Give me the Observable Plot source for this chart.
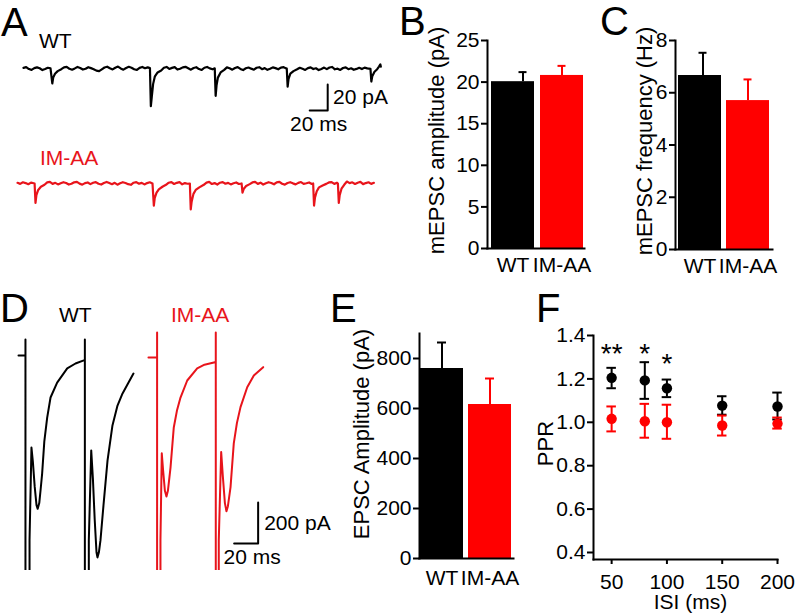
<!DOCTYPE html>
<html><head><meta charset="utf-8">
<script src="https://cdn.jsdelivr.net/npm/d3@7"></script>
<script src="https://cdn.jsdelivr.net/npm/@observablehq/plot@0.6"></script>
<style>
body{margin:0;background:#fff;}
#fig{position:relative;width:796px;height:614px;overflow:hidden;font-family:"Liberation Sans",Arial,sans-serif;color:#000;background:#fff;}
#fig svg{position:absolute;overflow:visible;}
.lbl{position:absolute;white-space:nowrap;line-height:1;font-size:21px;}
.let{position:absolute;white-space:nowrap;line-height:1;font-size:40px;}
</style></head><body><div id="fig"></div>
<script>
// ---------- data ----------
const groups = ["WT", "IM-AA"];
const mepscAmp = [20.05, 20.8];
const mepscAmpSem = [1.15, 1.15];
const mepscFreq = [6.66, 5.70];
const mepscFreqSem = [0.87, 0.81];
const epscAmp = [760, 616];
const epscAmpSem = [104, 104];

const isi = [50, 80, 100, 150, 200];
const isiTicks = [50, 100, 150, 200];
const pprWT = [1.205, 1.193, 1.157, 1.077, 1.073];
const pprWTlo = [1.157, 1.108, 1.116, 1.035, 1.013];
const pprWThi = [1.251, 1.277, 1.197, 1.120, 1.137];
const pprIM = [1.016, 1.005, 1.000, 0.985, 0.994];
const pprIMlo = [0.958, 0.929, 0.924, 0.939, 0.971];
const pprIMhi = [1.073, 1.085, 1.081, 1.031, 1.022];
const starIsi = [50, 80, 100];
const starY = [1.349, 1.349, 1.300];
const starText = ["**", "*", "*"];

const ampTicks = [0, 5, 10, 15, 20, 25];
const freqTicks = [0, 2, 4, 6, 8];
const epscTicks = [0, 200, 400, 600, 800];
const pprTicks = [0.4, 0.6, 0.8, 1.0, 1.2, 1.4];

// mEPSC traces: [time (ms), current (pA)]
const wtMini = [
[0,0.5],[3,1.1],[6,-0.4],[9,-1.0],[12,0.3],[15,0.9],[18,0.2],[21,-1.2],[24,-0.4],[27,0.6],[30,0.2],
[32,-11.5],[33,-7],[35,-4],[38,-2],[42,-0.5],
[45,0.9],[48,1.3],[51,-0.2],[54,-0.9],[57,0.1],[60,1.2],[63,0.4],[66,-0.8],[69,-0.2],[72,1.0],[75,0.3],[78,-0.5],[81,-1.6],[84,-2.0],[87,-0.6],[90,0.8],[93,1.4],[96,0.2],[99,-0.7],[102,0.6],[105,1.5],[108,0.1],[111,-0.9],[114,0.4],[117,1.3],[120,0.6],[123,-0.6],[126,-1.1],[129,0.5],[132,1.2],[135,0.2],[138,0.9],[140.5,0.3],
[141.5,-29],[142.5,-22],[144,-12],[146,-6],[149,-3],[153,-1.5],
[156,0.6],[159,1.2],[162,-0.3],[165,0.5],[168,1.1],[171,-0.8],[174,-0.2],[177,0.9],[180,1.3],[183,0.2],[186,-0.9],[189,0.4],[192,1.0],[195,-0.4],[198,-1.1],[201,0.6],[204,1.2],[207,0.1],[210,-0.6],[212.5,0.1],
[213.5,-21],[214.5,-13],[216,-7],[219,-3],[223,-1],
[226,0.9],[229,0.2],[232,-0.9],[235,0.4],[238,1.1],[241,-0.3],[244,-1.2],[247,0.2],[250,0.8],[253,-0.1],[256,-0.9],[259,0.6],[262,1.0],[265,-0.5],[268,0.3],[271,-1.0],[274,-0.2],[277,0.9],[280,0.3],[283,-0.6],[286,0.7],[289,1.1],[291,0.3],[292.5,0],
[293.5,-14],[294.5,-8],[296.5,-4],[300,-2],[304,-0.6],
[307,0.6],[310,-0.2],[313,-1.1],[316,0.3],[319,0.9],[322,-0.4],[325,0.2],[328,-1.2],[331,-0.3],[334,0.7],[337,-0.5],[340,0.8],[343,1.2],[346,-0.6],[349,-0.1],[352,-1.1],[355,0.4],[358,0.9],[361,-0.5],[364,0.2],[367,-1.0],[370,-0.3],[373,0.6],[376,-0.4],[379,0.7],[382,0.1],[385.5,-0.3],
[386.5,-10],[387.5,-6],[390,-2.5],[393,-0.5],[395,1.5],[396.5,3.2],[397,1.5]
];
const imMini = [
[0,0.5],[3,-0.3],[6,0.9],[9,0.3],[12,-0.6],[15,0.7],[18,0.2],[19,0],
[20,-15],[21,-9],[23,-5],[26,-2.5],[30,-1],
[33,0.8],[36,1.2],[39,-0.3],[42,0.5],[45,-0.7],[48,0.2],[51,1.0],[54,0.4],[57,-0.8],[60,-0.2],[63,0.9],[66,1.3],[69,-0.1],[72,-0.9],[75,0.3],[78,0.8],[81,-0.5],[84,0.6],[87,1.1],[90,-0.2],[93,-0.8],[96,0.4],[99,1.2],[102,0.3],[105,-0.6],[108,0.5],[111,-0.9],[114,0.2],[117,1.0],[120,0.4],[123,-0.5],[126,-1.0],[129,0.6],[132,1.1],[135,-0.2],[138,0.5],[141,-0.7],[144,0.3],[147,0.9],[150,0],
[151.5,-17],[152.5,-11],[154.5,-7],[157,-4.5],[161,-2.5],[165,-1],
[168,0.6],[171,1.1],[174,-0.4],[177,0.5],[180,1.0],[183,-0.6],[186,0.3],[189,-0.2],[191.5,0],
[192.5,-20],[193.5,-14],[195.5,-8],[198,-5],[202,-3],[207,-1],
[210,0.7],[213,1.2],[216,-0.4],[219,0.3],[222,-0.8],[225,0.6],[228,1.1],[231,-0.2],[234,0.5],[237,-0.7],[240,0.2],[243,0.8],[246,-0.4],[249,0],
[250,-7],[251.5,-4],[254,-2],[258,-0.5],
[261,0.8],[264,1.2],[267,-0.3],[270,0.6],[273,-0.8],[276,0.2],[279,1.0],[282,0.4],[285,-0.6],[288,0.9],[291,1.3],[294,-0.2],[297,-0.9],[300,0.4],[303,1.0],[306,0.1],[309,-0.7],[312,0.5],[315,1.1],[318,-0.3],[321,0.2],[324,0.8],[327,-0.4],[328.5,0],
[329.5,-17],[330.5,-11],[332.5,-6],[335,-3],[339,-1.5],[343,-0.3],
[346,0.8],[349,1.1],[352,-0.3],[355,0.6],[356,0],
[357,-15],[358,-9],[360,-4],[363,-1],[366,1.5],[369,0.3],
[372,0.9],[375,-0.4],[378,0.6],[381,1.2],[384,-0.5],[387,0.3],[390,0.9],[393,-0.3],[396,0.5]
];
// evoked EPSC traces (paired pulses, 50 ms): [time (ms), current (pA)]
const wtEpsc = [
[15,0],[20.8,0],[20.8,78],[20.8,-1300],[24.2,-1300],[24.2,-900],[25.8,-449],[27,-520],[28.5,-640],[30,-730],[31,-748],[32.3,-720],[33.5,-650],[34.7,-576],[36.5,-420],[38.9,-303],[41.7,-205],[47.2,-132],[55.6,-63],[62.5,-39],[69.4,-24],[70.3,-22],
[70.3,78],[70.3,-1300],[73.6,-1300],[73.6,-900],[75.6,-463],[77,-600],[78.5,-800],[80,-960],[80.8,-985],[82,-960],[83.3,-902],[85.8,-732],[89.2,-512],[93.3,-341],[97.5,-244],[101.7,-185],[106.7,-132],[110.8,-88]
];
const imEpsc = [
[123.3,-10],[130.5,-10],[130.5,112],[130.5,-1300],[133.3,-1300],[133.3,-900],[134.4,-477],[135.5,-560],[137,-660],[138.3,-688],[139.5,-660],[141.7,-546],[144.4,-351],[147,-270],[150,-205],[155.6,-122],[163.9,-63],[170,-45],[177.8,-34],[179.4,-32],
[179.4,112],[179.4,-1300],[181.9,-1300],[181.9,-900],[183.9,-471],[185.3,-590],[187,-720],[188.3,-760],[189.5,-735],[191.7,-642],[194.4,-429],[197,-330],[200,-252],[205.6,-155],[211.1,-98],[218.9,-57]
];

// ---------- helpers ----------
const FONT = '"Liberation Sans", Arial, sans-serif';
const barColors = ["#000000", "#ff0000"];
const traceRed = "#e8141b";
const fig = document.getElementById("fig");
const baseStyle = {fontFamily: FONT, fontSize: "21px", background: "transparent", overflow: "visible", color: "#000"};
function place(el, left, top) { el.style.left = left + "px"; el.style.top = top + "px"; fig.appendChild(el); }
function label(text, cls, left, top, color) {
  const d = document.createElement("div"); d.className = cls; d.textContent = text;
  d.style.left = left + "px"; d.style.top = top + "px"; if (color) d.style.color = color; fig.appendChild(d);
}

function barPanel(o) {
  const data = groups.map((g, i) => ({g, v: o.values[i], hi: o.values[i] + o.sems[i]}));
  const errMarks = groups.flatMap((g, i) => {
    const sub = data.filter(d => d.g === g);
    const dx = o.errDx ? o.errDx[i] : 0;
    return [
      Plot.ruleX(sub, {x: "g", y1: "v", y2: "hi", stroke: "g", strokeWidth: 2, dx}),
      Plot.tickY(sub, {x: "g", y: "hi", stroke: "g", strokeWidth: 2, insetLeft: o.cap, insetRight: o.cap, dx})
    ];
  });
  return Plot.plot({
    width: o.width, height: o.height,
    marginLeft: o.ml, marginRight: o.mr, marginTop: o.mt, marginBottom: o.mb,
    style: baseStyle,
    x: {domain: groups, range: o.xrange, paddingInner: o.pad, paddingOuter: 0, align: 0},
    y: {domain: o.ydomain},
    color: {domain: groups, range: barColors},
    marks: [
      ...errMarks,
      Plot.barY(data, {x: "g", y: "v", fill: "g"}),
      Plot.frame({anchor: "left", strokeWidth: 2}),
      Plot.frame({anchor: "bottom", strokeWidth: 2}),
      Plot.axisY({ticks: o.yticks, tickSize: 6, tickPadding: 2, strokeWidth: 2, label: null}),
      Plot.axisX({tickSize: 0, tickPadding: o.xpad, label: null}),
      Plot.text([o.ylabel], {text: d => d, frameAnchor: "left", rotate: -90, dx: o.labelDx, dy: o.labelDy || 0, fontSize: 22, textAnchor: "middle", lineAnchor: "middle"})
    ]
  });
}

// ---------- panel A ----------
const scaleA = {t: 338, v: -32.3, ms: 20, pA: 20};
place(Plot.plot({
  width: 378, height: 90, margin: 0, style: baseStyle,
  x: {domain: [0, 420], axis: null}, y: {domain: [-51.5, 17.7], axis: null},
  marks: [
    Plot.line(wtMini, {x: d => d[0], y: d => d[1], stroke: "#000", strokeWidth: 2.2}),
    Plot.line([[scaleA.t - scaleA.ms, scaleA.v], [scaleA.t, scaleA.v], [scaleA.t, scaleA.v + scaleA.pA]], {x: d => d[0], y: d => d[1], stroke: "#000", strokeWidth: 2}),
    Plot.text([`${scaleA.pA} pA`], {text: d => d, x: scaleA.t + 6, y: scaleA.v + scaleA.pA / 2, textAnchor: "start", lineAnchor: "middle"}),
    Plot.text([`${scaleA.ms} ms`], {text: d => d, x: scaleA.t - 10, y: scaleA.v - 10.7, textAnchor: "middle", lineAnchor: "middle"})
  ]
}), 23, 45);
place(Plot.plot({
  width: 378, height: 60, margin: 0, style: baseStyle,
  x: {domain: [0, 420], axis: null}, y: {domain: [-28.5, 17.7], axis: null},
  marks: [Plot.line(imMini, {x: d => d[0], y: d => d[1], stroke: traceRed, strokeWidth: 2.2})]
}), 17, 160);

// ---------- panel D ----------
const scaleD = {t: 214.7, v: -917, ms: 20, pA: 200};
place(Plot.plot({
  width: 345, height: 250, margin: 0, style: baseStyle,
  x: {domain: [0, 287.5], axis: null}, y: {domain: [-1048.8, 170.7], axis: null},
  marks: [
    Plot.line(wtEpsc, {x: d => d[0], y: d => d[1], stroke: "#000", strokeWidth: 2, clip: true}),
    Plot.line(imEpsc, {x: d => d[0], y: d => d[1], stroke: traceRed, strokeWidth: 2, clip: true}),
    Plot.line([[scaleD.t - scaleD.ms, scaleD.v], [scaleD.t, scaleD.v], [scaleD.t, scaleD.v + scaleD.pA]], {x: d => d[0], y: d => d[1], stroke: "#000", strokeWidth: 2}),
    Plot.text([`${scaleD.pA} pA`], {text: d => d, x: scaleD.t + 5, y: scaleD.v + scaleD.pA / 2, textAnchor: "start", lineAnchor: "middle"}),
    Plot.text([`${scaleD.ms} ms`], {text: d => d, x: scaleD.t - 5, y: scaleD.v - 68, textAnchor: "middle", lineAnchor: "middle"})
  ]
}), 0, 320);

// ---------- panels B, C, E ----------
place(barPanel({values: mepscAmp, sems: mepscAmpSem, width: 190, height: 248, ml: 87, mr: 6, mt: 10, mb: 30,
  xrange: [91, 184], pad: 0.12, ydomain: [0, 25], yticks: ampTicks, ylabel: "mEPSC amplitude (pA)", labelDx: -51, labelDy: -4, cap: 17.5, xpad: 9, errDx: [10, 0]}), 400, 30);
place(barPanel({values: mepscFreq, sems: mepscFreqSem, width: 190, height: 249, ml: 85, mr: 8, mt: 10, mb: 30,
  xrange: [88, 181], pad: 0.1, ydomain: [0, 8], yticks: freqTicks, ylabel: "mEPSC frequency (Hz)", labelDx: -31, labelDy: -4, cap: 17.5, xpad: 9, errDx: [3, 0]}), 590, 30);
place(barPanel({values: epscAmp, sems: epscAmpSem, width: 180, height: 275, ml: 79, mr: 7, mt: 10, mb: 40,
  xrange: [80, 171], pad: 0.11, ydomain: [0, 900], yticks: epscTicks, ylabel: "EPSC Amplitude (pA)", labelDx: -58, labelDy: -12, cap: 17, xpad: 12}), 340, 323);

// ---------- panel F ----------
const pprRows = [
  ...isi.map((x, i) => ({isi: x, g: "IM-AA", v: pprIM[i], lo: pprIMlo[i], hi: pprIMhi[i]})),
  ...isi.map((x, i) => ({isi: x, g: "WT", v: pprWT[i], lo: pprWTlo[i], hi: pprWThi[i]}))
];
const stars = starIsi.map((x, i) => ({isi: x, y: starY[i], s: starText[i]}));
const capMs = 4.3;
place(Plot.plot({
  width: 260, height: 294, marginLeft: 63, marginRight: 13, marginTop: 15, marginBottom: 55,
  style: baseStyle,
  x: {domain: [33.6, 200]}, y: {domain: [0.3677, 1.4]},
  color: {domain: groups, range: barColors},
  marks: [
    Plot.ruleX(pprRows, {x: "isi", y1: "lo", y2: "hi", stroke: "g", strokeWidth: 2}),
    Plot.ruleY(pprRows, {y: "lo", x1: d => d.isi - capMs, x2: d => d.isi + capMs, stroke: "g", strokeWidth: 2}),
    Plot.ruleY(pprRows, {y: "hi", x1: d => d.isi - capMs, x2: d => d.isi + capMs, stroke: "g", strokeWidth: 2}),
    Plot.dot(pprRows, {x: "isi", y: "v", fill: "g", r: 5.2, stroke: null}),
    Plot.text(stars, {x: "isi", y: "y", text: "s", fontSize: 28, dy: 7, lineAnchor: "middle"}),
    Plot.frame({anchor: "left", strokeWidth: 2}),
    Plot.frame({anchor: "bottom", strokeWidth: 2}),
    Plot.axisY({ticks: pprTicks, tickFormat: d3.format(".1f"), tickSize: 6, tickPadding: 2, strokeWidth: 2, label: null}),
    Plot.axisX({ticks: isiTicks, tickSize: 5, tickPadding: 10, strokeWidth: 2, label: null}),
    Plot.text(["PPR"], {text: d => d, frameAnchor: "left", rotate: -90, dx: -48, dy: -4, fontSize: 22, textAnchor: "middle", lineAnchor: "middle"}),
    Plot.text(["ISI (ms)"], {text: d => d, frameAnchor: "bottom", dx: 5, dy: 43, fontSize: 21, textAnchor: "middle", lineAnchor: "middle"})
  ]
}), 530, 320);

// ---------- labels ----------
label("A", "let", 1, 2);
label("B", "let", 399, 1);
label("C", "let", 600, 1);
label("D", "let", 0, 288);
label("E", "let", 330, 288);
label("F", "let", 536, 288);
label("WT", "lbl", 39, 30);
label("IM-AA", "lbl", 40, 147, traceRed);
label("WT", "lbl", 59, 304);
label("IM-AA", "lbl", 171, 304, traceRed);
</script></body></html>
